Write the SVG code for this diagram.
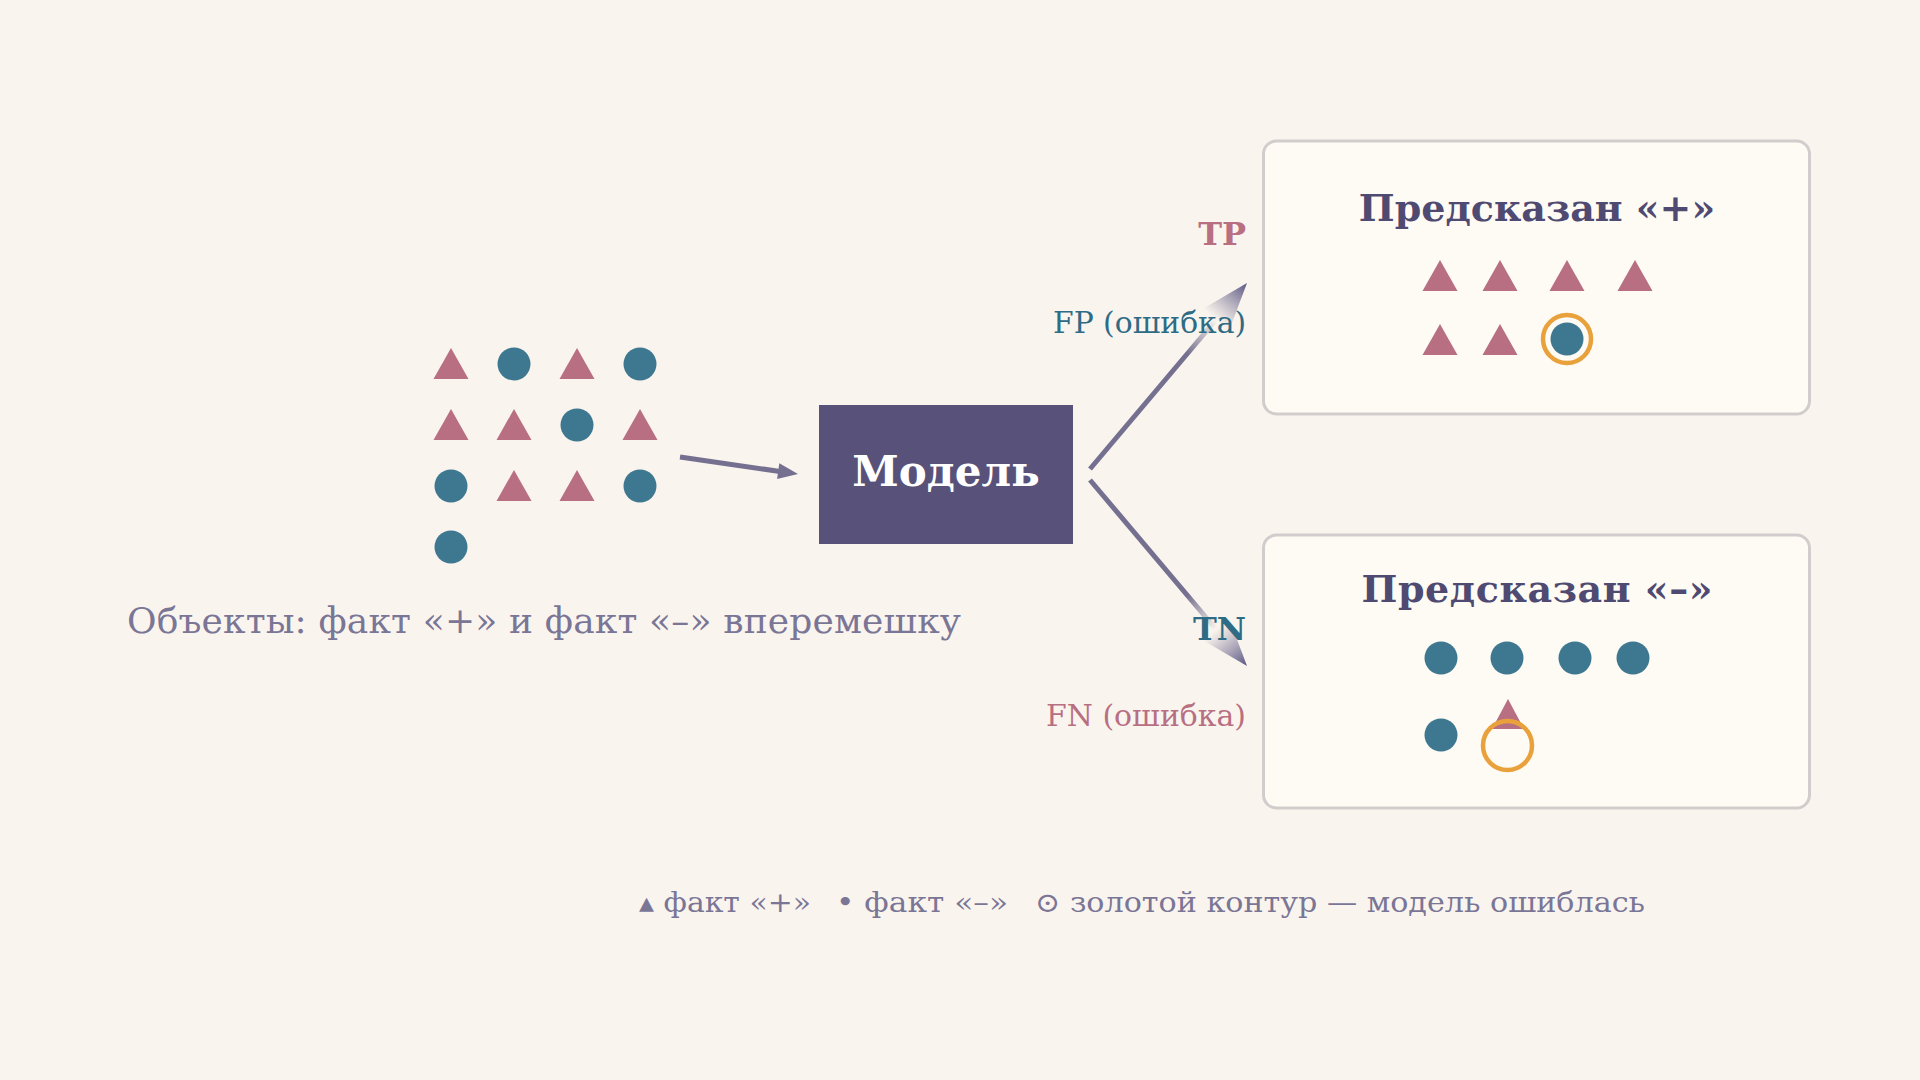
<svg xmlns="http://www.w3.org/2000/svg" width="1920" height="1080" viewBox="0 0 1920 1080">
<defs>
<style>
.tri{fill:#b86f82}
.dot{fill:#3d7890}
.ring{fill:none;stroke:#e9a23b;stroke-width:4.5}
.box{fill:#fefaf4;stroke:#d2cdcc;stroke-width:3}
.title{font-family:"DejaVu Serif",serif;font-weight:bold;font-size:38px;fill:#4f4a72;text-anchor:middle}
.lbl{font-family:"DejaVu Serif",serif;text-anchor:end}
.muted{font-family:"DejaVu Serif",serif;fill:#7a7696}
</style>
<linearGradient id="gU" gradientUnits="userSpaceOnUse" x1="1090" y1="469" x2="1247" y2="283">
<stop offset="0" stop-color="#75708f"/><stop offset="0.62" stop-color="#75708f"/><stop offset="0.8" stop-color="#75708f" stop-opacity="0"/>
</linearGradient>
<linearGradient id="gL" gradientUnits="userSpaceOnUse" x1="1090" y1="480" x2="1247" y2="666">
<stop offset="0" stop-color="#75708f"/><stop offset="0.62" stop-color="#75708f"/><stop offset="0.8" stop-color="#75708f" stop-opacity="0"/>
</linearGradient>
<linearGradient id="hU" gradientUnits="userSpaceOnUse" x1="1216" y1="319.7" x2="1247" y2="283">
<stop offset="0" stop-color="#75708f" stop-opacity="0"/><stop offset="1" stop-color="#5a5584"/>
</linearGradient>
<linearGradient id="hL" gradientUnits="userSpaceOnUse" x1="1216" y1="629.3" x2="1247" y2="666">
<stop offset="0" stop-color="#75708f" stop-opacity="0"/><stop offset="1" stop-color="#5a5584"/>
</linearGradient>
</defs>
<rect width="1920" height="1080" fill="#faf4ee"/>

<g id="inputs">
<polygon class="tri" points="451,348 433.5,379 468.5,379"/>
<circle class="dot" cx="514" cy="364" r="16.5"/>
<polygon class="tri" points="577,348 559.5,379 594.5,379"/>
<circle class="dot" cx="640" cy="364" r="16.5"/>
<polygon class="tri" points="451,409 433.5,440 468.5,440"/>
<polygon class="tri" points="514,409 496.5,440 531.5,440"/>
<circle class="dot" cx="577" cy="425" r="16.5"/>
<polygon class="tri" points="640,409 622.5,440 657.5,440"/>
<circle class="dot" cx="451" cy="486" r="16.5"/>
<polygon class="tri" points="514,470 496.5,501 531.5,501"/>
<polygon class="tri" points="577,470 559.5,501 594.5,501"/>
<circle class="dot" cx="640" cy="486" r="16.5"/>
<circle class="dot" cx="451" cy="547" r="16.5"/>
<text class="muted" x="127" y="633" font-size="36" textLength="834" lengthAdjust="spacing">Объекты: факт «+» и факт «–» вперемешку</text>
</g>

<g id="model">
<rect x="819" y="405" width="254" height="139" fill="#58527a"/>
<text x="946" y="486" font-family="DejaVu Serif,serif" font-weight="bold" font-size="42" fill="#ffffff" text-anchor="middle">Модель</text>
</g>

<g id="connectors">
<line x1="680" y1="457" x2="780" y2="471.5" stroke="#75708f" stroke-width="5"/>
<polygon points="798,474 777.1,479 779.3,463.2" fill="#75708f"/>
<line x1="1090" y1="469" x2="1247" y2="283" stroke="url(#gU)" stroke-width="5"/>
<polygon points="1247,283 1229,330.7 1203,308.7" fill="url(#hU)"/>
<line x1="1090" y1="480" x2="1247" y2="666" stroke="url(#gL)" stroke-width="5"/>
<polygon points="1247,666 1229,618.3 1203,640.3" fill="url(#hL)"/>
<text class="lbl" x="1246" y="245" font-size="32" font-weight="bold" fill="#b86f82">TP</text>
<text class="lbl" x="1246" y="333" font-size="29" fill="#2e6b85" textLength="193" lengthAdjust="spacingAndGlyphs">FP (ошибка)</text>
<text class="lbl" x="1246" y="640" font-size="32" font-weight="bold" fill="#2e6b85">TN</text>
<text class="lbl" x="1246" y="726" font-size="29" fill="#b86f82" textLength="200" lengthAdjust="spacingAndGlyphs">FN (ошибка)</text>
</g>

<g id="pred-pos">
<rect class="box" x="1263.5" y="141" width="546" height="273" rx="13"/>
<text class="title" x="1537" y="221">Предсказан «+»</text>
<polygon class="tri" points="1440,260 1422.5,291 1457.5,291"/>
<polygon class="tri" points="1500,260 1482.5,291 1517.5,291"/>
<polygon class="tri" points="1567,260 1549.5,291 1584.5,291"/>
<polygon class="tri" points="1635,260 1617.5,291 1652.5,291"/>
<polygon class="tri" points="1440,324 1422.5,355 1457.5,355"/>
<polygon class="tri" points="1500,324 1482.5,355 1517.5,355"/>
<circle class="dot" cx="1567" cy="339" r="16.5"/>
<circle class="ring" cx="1567" cy="339" r="24"/>
</g>

<g id="pred-neg">
<rect class="box" x="1263.5" y="535" width="546" height="273" rx="13"/>
<text class="title" x="1537" y="602" textLength="351" lengthAdjust="spacing">Предсказан «–»</text>
<circle class="dot" cx="1441" cy="658" r="16.5"/>
<circle class="dot" cx="1507" cy="658" r="16.5"/>
<circle class="dot" cx="1575" cy="658" r="16.5"/>
<circle class="dot" cx="1633" cy="658" r="16.5"/>
<circle class="dot" cx="1441" cy="735" r="16.5"/>
<polygon class="tri" points="1508,699 1492,729 1524,729"/>
<circle class="ring" cx="1507.5" cy="745.5" r="24.5"/>
</g>

<g id="legend">
<text class="muted" x="639" y="912" font-size="28" textLength="172" lengthAdjust="spacingAndGlyphs">▴ факт «+»</text>
<text class="muted" x="836" y="912" font-size="28" textLength="172" lengthAdjust="spacingAndGlyphs">• факт «–»</text>
<text class="muted" x="1035" y="912" font-size="28" textLength="610" lengthAdjust="spacingAndGlyphs">⊙ золотой контур — модель ошиблась</text>
</g>
</svg>
